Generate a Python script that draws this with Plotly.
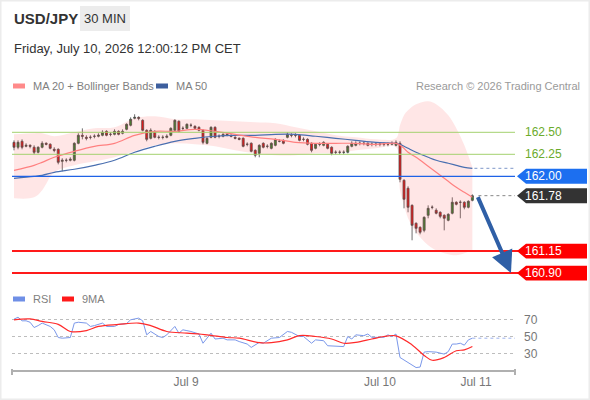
import plotly.graph_objects as go

# candle data, 30 min bars (index = bar number)
opens = [162.386, 162.330, 162.398, 162.341, 162.352, 162.330, 162.273, 162.330, 162.375, 162.364,
         162.307, 162.307, 162.170, 162.182, 162.182, 162.182, 162.375, 162.466, 162.443, 162.443,
         162.455, 162.455, 162.466, 162.511, 162.477, 162.477, 162.511, 162.489, 162.534, 162.580,
         162.659, 162.670, 162.636, 162.523, 162.432, 162.511, 162.443, 162.443, 162.443, 162.466,
         162.523, 162.625, 162.545, 162.545, 162.580, 162.568, 162.557, 162.523, 162.375, 162.443,
         162.557, 162.455, 162.455, 162.466, 162.466, 162.443, 162.432, 162.432, 162.364, 162.375,
         162.295, 162.261, 162.375, 162.341, 162.318, 162.352, 162.398, 162.409, 162.443, 162.466,
         162.466, 162.466, 162.420, 162.420, 162.375, 162.318, 162.364, 162.352, 162.364, 162.330,
         162.273, 162.273, 162.273, 162.273, 162.341, 162.352, 162.375, 162.375, 162.375, 162.364,
         162.364, 162.364, 162.364, 162.364, 162.364, 162.352, 162.375, 161.955, 161.864, 161.670,
         161.466, 161.420, 161.386, 161.557, 161.648, 161.614, 161.591, 161.557, 161.500, 161.580,
         161.705, 161.705, 161.705, 161.648, 161.727]
highs = [162.409, 162.409, 162.420, 162.375, 162.364, 162.352, 162.341, 162.398, 162.386, 162.375,
         162.330, 162.318, 162.205, 162.205, 162.216, 162.386, 162.489, 162.545, 162.466, 162.466,
         162.477, 162.489, 162.523, 162.523, 162.500, 162.534, 162.523, 162.534, 162.602, 162.670,
         162.705, 162.682, 162.648, 162.534, 162.545, 162.523, 162.466, 162.466, 162.477, 162.557,
         162.648, 162.636, 162.568, 162.602, 162.602, 162.580, 162.568, 162.534, 162.443, 162.568,
         162.568, 162.477, 162.489, 162.489, 162.477, 162.455, 162.443, 162.443, 162.386, 162.386,
         162.307, 162.364, 162.386, 162.364, 162.386, 162.432, 162.420, 162.420, 162.500, 162.489,
         162.489, 162.477, 162.443, 162.432, 162.386, 162.375, 162.386, 162.398, 162.375, 162.341,
         162.295, 162.295, 162.295, 162.352, 162.398, 162.398, 162.398, 162.398, 162.386, 162.386,
         162.386, 162.386, 162.386, 162.386, 162.398, 162.409, 162.398, 161.966, 161.886, 161.682,
         161.477, 161.432, 161.545, 161.670, 161.670, 161.636, 161.602, 161.568, 161.580, 161.761,
         161.716, 161.727, 161.716, 161.727, 161.795]
lows = [162.295, 162.307, 162.307, 162.330, 162.318, 162.250, 162.261, 162.318, 162.352, 162.307,
        162.273, 162.136, 162.057, 162.159, 162.170, 162.170, 162.364, 162.420, 162.409, 162.420,
        162.432, 162.443, 162.455, 162.455, 162.455, 162.466, 162.466, 162.477, 162.523, 162.568,
        162.648, 162.636, 162.511, 162.398, 162.420, 162.432, 162.420, 162.420, 162.432, 162.455,
        162.511, 162.500, 162.523, 162.534, 162.557, 162.534, 162.511, 162.364, 162.364, 162.432,
        162.432, 162.432, 162.443, 162.455, 162.443, 162.420, 162.409, 162.330, 162.341, 162.273,
        162.216, 162.216, 162.318, 162.318, 162.307, 162.341, 162.386, 162.364, 162.432, 162.443,
        162.443, 162.398, 162.398, 162.352, 162.273, 162.307, 162.341, 162.341, 162.307, 162.239,
        162.250, 162.250, 162.250, 162.261, 162.330, 162.341, 162.352, 162.352, 162.341, 162.341,
        162.341, 162.341, 162.341, 162.341, 162.352, 162.341, 161.932, 161.636, 161.591, 161.273,
        161.352, 161.341, 161.364, 161.523, 161.625, 161.568, 161.523, 161.386, 161.489, 161.568,
        161.670, 161.523, 161.625, 161.636, 161.716]
closes = [162.330, 162.386, 162.330, 162.352, 162.341, 162.273, 162.330, 162.375, 162.364, 162.318,
          162.295, 162.159, 162.182, 162.182, 162.193, 162.375, 162.466, 162.455, 162.432, 162.443,
          162.455, 162.466, 162.500, 162.466, 162.477, 162.511, 162.477, 162.511, 162.591, 162.648,
          162.670, 162.659, 162.523, 162.420, 162.523, 162.443, 162.443, 162.443, 162.455, 162.545,
          162.636, 162.511, 162.545, 162.591, 162.580, 162.545, 162.523, 162.386, 162.432, 162.557,
          162.443, 162.455, 162.477, 162.477, 162.455, 162.432, 162.420, 162.341, 162.364, 162.284,
          162.239, 162.352, 162.330, 162.341, 162.375, 162.420, 162.398, 162.375, 162.477, 162.466,
          162.466, 162.409, 162.420, 162.364, 162.295, 162.364, 162.364, 162.386, 162.318, 162.261,
          162.273, 162.273, 162.273, 162.341, 162.375, 162.375, 162.375, 162.375, 162.352, 162.364,
          162.364, 162.364, 162.364, 162.364, 162.375, 162.386, 161.966, 161.739, 161.648, 161.443,
          161.409, 161.364, 161.534, 161.636, 161.648, 161.580, 161.545, 161.523, 161.568, 161.705,
          161.682, 161.705, 161.648, 161.716, 161.780]
bars = list(range(len(closes)))

# moving averages / bands at these bars
ma_bars = [0, 5, 7, 10, 15, 20, 25, 30, 35, 40, 45, 50, 55, 60, 65, 70, 75, 80, 85, 90,
           95, 96, 97, 98, 100, 103, 105, 108, 110, 112, 114]
ma20 = [162.068, 162.125, 162.159, 162.216, 162.284, 162.341, 162.375, 162.466, 162.511, 162.511,
        162.534, 162.511, 162.477, 162.443, 162.420, 162.386, 162.375, 162.375, 162.375, 162.364,
        162.375, 162.352, 162.318, 162.273, 162.216, 162.114, 162.045, 161.943, 161.875, 161.818, 161.761]
ma50 = [161.977, 162.000, 162.011, 162.045, 162.080, 162.125, 162.182, 162.273, 162.341, 162.398,
        162.432, 162.455, 162.466, 162.466, 162.477, 162.477, 162.455, 162.432, 162.409, 162.386,
        162.375, 162.364, 162.341, 162.318, 162.273, 162.216, 162.182, 162.148, 162.125, 162.102, 162.091]
bb_upper = [162.477, 162.489, 162.489, 162.455, 162.500, 162.545, 162.557, 162.659, 162.682, 162.648,
            162.648, 162.636, 162.625, 162.614, 162.602, 162.557, 162.511, 162.466, 162.443, 162.420,
            162.432, 162.580, 162.693, 162.750, 162.818, 162.852, 162.818, 162.693, 162.545, 162.352, 162.102]
bb_lower = [161.750, 161.761, 161.841, 162.045, 162.125, 162.170, 162.216, 162.284, 162.352, 162.375,
            162.364, 162.341, 162.295, 162.261, 162.239, 162.239, 162.261, 162.261, 162.295, 162.318,
            162.330, 161.841, 161.670, 161.523, 161.364, 161.216, 161.159, 161.114, 161.102, 161.125, 161.159]

# RSI panel
rsi_bars = [0, 1, 2, 3, 4, 5, 6, 7, 9, 10, 11, 12, 14, 15, 16, 18, 19, 20, 22, 23, 25, 26, 28, 29,
            31, 32, 33, 34, 36, 37, 38, 40, 41, 42, 43, 44, 46, 47, 49, 50, 52, 53, 55, 56, 58, 59,
            61, 62, 64, 66, 68, 69, 71, 72, 74, 75, 77, 78, 82, 83, 84, 85, 87, 88, 89, 92, 93, 94,
            95, 96, 97, 99, 100, 101, 102, 103, 105, 107, 108, 109, 110, 111, 112, 113, 114]
rsi = [70.7, 73, 68.7, 68.7, 67, 60.7, 63, 66, 62, 58, 48.8, 48, 48.8, 66, 67, 66, 62, 63, 66, 62,
       62, 64.4, 65.4, 69.9, 71.9, 68.7, 52, 56, 50, 48.8, 52, 62, 54, 58, 57, 56, 53, 42, 54, 47,
       48, 46, 46, 44, 41, 37, 43, 42, 48, 48.8, 56, 55, 50, 50, 42, 46, 45, 39, 38, 50, 47, 52,
       51, 53, 49, 49, 52, 50, 53, 25, 22, 15.5, 13, 13.6, 31.4, 32, 31.4, 29, 32, 41, 41, 42, 39.7, 46, 48]
ma9_bars = [0, 4, 7, 11, 14, 18, 21, 26, 31, 34, 38, 43, 48, 53, 56, 61, 64, 68, 71, 75, 79, 82,
            85, 89, 92, 95, 99, 102, 104, 107, 110, 112, 114]
rsi_ma9 = [69.9, 71, 68, 64.4, 56, 57, 62, 64.4, 66, 63, 56, 54, 52, 48.8, 48, 42.6, 42.6, 46, 51,
           50, 47, 42, 43, 47, 50, 50.8, 40, 27.5, 21.7, 25, 33, 34, 38]

# levels shown on the right
levels_green = [162.50, 162.25]
level_blue = 162.00
levels_red = [161.15, 160.90]
last_price = closes[-1]
target_price = 160.90
target_bar = 123.6

x_tick_pos = [42.8, 91, 114.9]
x_tick_text = ["Jul 9", "Jul 10", "Jul 11"]

FONT = "Liberation Sans, Arial, sans-serif"
XR = [-0.5, 124.6]
PX_W = 503.0


def px(x):
    # figure pixel -> paper x
    return (x - 12) / PX_W


def py(y):
    return (400 - y) / 400.0


fig = go.Figure()

fig.add_trace(go.Scatter(x=ma_bars, y=bb_upper, mode="lines", line=dict(width=0, shape="spline"),
                         hoverinfo="skip", xaxis="x", yaxis="y"))
fig.add_trace(go.Scatter(x=ma_bars, y=bb_lower, mode="lines", line=dict(width=0, shape="spline"),
                         fill="tonexty", fillcolor="rgba(255,60,60,0.13)", hoverinfo="skip",
                         xaxis="x", yaxis="y"))
fig.add_trace(go.Scatter(x=ma_bars, y=ma50, mode="lines",
                         line=dict(color="#4a6fb0", width=1.2, shape="spline"), xaxis="x", yaxis="y"))
fig.add_trace(go.Scatter(x=ma_bars, y=ma20, mode="lines",
                         line=dict(color="#ff8080", width=1.2, shape="spline"), xaxis="x", yaxis="y"))

fig.add_trace(go.Candlestick(
    x=bars, open=opens, high=highs, low=lows, close=closes,
    increasing=dict(fillcolor="#2e8b2e", line=dict(color="#4a4a4a", width=0.8)),
    decreasing=dict(fillcolor="#e81010", line=dict(color="#4a4a4a", width=0.8)),
    whiskerwidth=0, xaxis="x", yaxis="y"))

fig.add_trace(go.Scatter(x=rsi_bars, y=rsi, mode="lines", line=dict(color="#7b98ea", width=1),
                         xaxis="x2", yaxis="y2"))
fig.add_trace(go.Scatter(x=ma9_bars, y=rsi_ma9, mode="lines",
                         line=dict(color="#ff2a2a", width=1.2, shape="spline"), xaxis="x2", yaxis="y2"))

shapes = []
for lv in levels_green:
    shapes.append(dict(type="line", xref="paper", yref="y", x0=0, x1=1, y0=lv, y1=lv,
                       line=dict(color="#a3d16e", width=1)))
shapes.append(dict(type="line", xref="paper", yref="y", x0=0, x1=1, y0=level_blue, y1=level_blue,
                   line=dict(color="#1f62e6", width=1.3)))
for lv in levels_red:
    shapes.append(dict(type="line", xref="paper", yref="y", x0=0, x1=1.01, y0=lv, y1=lv,
                       line=dict(color="#ff1a1a", width=2)))
# dotted projections to the right edge
shapes.append(dict(type="line", xref="x", yref="y", x0=bars[-1] + 1.5, x1=XR[1], y0=last_price, y1=last_price,
                   line=dict(color="#888", width=1, dash="dot")))
shapes.append(dict(type="line", xref="x", yref="y", x0=bars[-1] + 0.5, x1=XR[1], y0=ma50[-1], y1=ma50[-1],
                   line=dict(color="#7d96c8", width=1, dash="dot")))
shapes.append(dict(type="line", xref="x2", yref="y2", x0=rsi_bars[-1], x1=XR[1], y0=rsi[-1], y1=rsi[-1],
                   line=dict(color="#9db2ee", width=1, dash="dot")))


def tag(price, color):
    h = 0.085
    a, b, c = px(517), px(526), px(587)
    path = f"M {a},{price} L {b},{price + h} L {c},{price + h} L {c},{price - h} L {b},{price - h} Z"
    return dict(type="path", xref="paper", yref="y", path=path, fillcolor=color, line=dict(width=0))


shapes.append(tag(level_blue, "#1c6ff0"))
shapes.append(tag(last_price, "#333333"))
for lv in levels_red:
    shapes.append(tag(lv, "#ff0000"))

# legend swatches
shapes.append(dict(type="rect", xref="paper", yref="paper", x0=px(13), x1=px(25), y0=py(88.5), y1=py(83.5),
                   fillcolor="#ff8a8a", line=dict(width=0)))
shapes.append(dict(type="rect", xref="paper", yref="paper", x0=px(156), x1=px(168), y0=py(88.5), y1=py(83.5),
                   fillcolor="#3d5f9e", line=dict(width=0)))
shapes.append(dict(type="rect", xref="paper", yref="paper", x0=px(13), x1=px(25), y0=py(301.5), y1=py(296.5),
                   fillcolor="#6f8fe6", line=dict(width=0)))
shapes.append(dict(type="rect", xref="paper", yref="paper", x0=px(62), x1=px(74), y0=py(301.5), y1=py(296.5),
                   fillcolor="#ff1a1a", line=dict(width=0)))
# header box and axis end marks
shapes.append(dict(type="rect", xref="paper", yref="paper", x0=px(80), x1=px(130), y0=py(31), y1=py(6),
                   fillcolor="#ececec", line=dict(width=0), layer="below"))
for xe in [0, 1]:
    shapes.append(dict(type="line", xref="paper", yref="paper", x0=xe, x1=xe, y0=py(369), y1=py(375),
                       line=dict(color="#b0b0b0", width=2)))
shapes.append(dict(type="rect", xref="paper", yref="paper", x0=px(0.5), x1=px(589.5), y0=py(399.5), y1=py(0.5),
                   line=dict(color="#ececec", width=2)))

annotations = [
    dict(text="<b>USD/JPY</b>", x=px(12), y=py(19), xanchor="left", yanchor="middle",
         font=dict(size=15, color="#333")),
    dict(text="30 MIN", x=px(105), y=py(19), xanchor="center", yanchor="middle",
         font=dict(size=13, color="#333")),
    dict(text="Friday, July 10, 2026 12:00:12 PM CET", x=px(12), y=py(48), xanchor="left", yanchor="middle",
         font=dict(size=13, color="#333")),
    dict(text="MA 20 + Bollinger Bands", x=px(31), y=py(86), xanchor="left", yanchor="middle",
         font=dict(size=11, color="#808080")),
    dict(text="MA 50", x=px(174), y=py(86), xanchor="left", yanchor="middle",
         font=dict(size=11, color="#808080")),
    dict(text="Research © 2026 Trading Central", x=px(582), y=py(86), xanchor="right", yanchor="middle",
         font=dict(size=11, color="#9a9a9a")),
    dict(text="RSI", x=px(31), y=py(299), xanchor="left", yanchor="middle",
         font=dict(size=11, color="#808080")),
    dict(text="9MA", x=px(80), y=py(299), xanchor="left", yanchor="middle",
         font=dict(size=11, color="#808080")),
]
for lv in levels_green:
    annotations.append(dict(text=f"{lv:.2f}", x=px(523), y=lv, xref="paper", yref="y", xanchor="left",
                            yanchor="middle", font=dict(size=12, color="#6bab2c")))
for lv in [level_blue, last_price] + levels_red:
    annotations.append(dict(text=f"{lv:.2f}", x=px(523), y=lv, xref="paper", yref="y", xanchor="left",
                            yanchor="middle", font=dict(size=12, color="white")))
for a in annotations:
    a.setdefault("xref", "paper")
    a.setdefault("yref", "paper")
    a["showarrow"] = False
    a["font"]["family"] = FONT

annotations.append(dict(x=target_bar, y=target_price, ax=bars[-1] + 1.2, ay=last_price,
                        xref="x", yref="y", axref="x", ayref="y", text="", showarrow=True,
                        arrowhead=2, arrowsize=1.1, arrowwidth=4, arrowcolor="#2f5fa6", standoff=0))

fig.update_layout(
    width=590, height=400,
    margin=dict(l=12, r=75, t=0, b=0),
    paper_bgcolor="white", plot_bgcolor="white",
    showlegend=False,
    font=dict(family=FONT),
    xaxis=dict(domain=[0, 1], range=XR, visible=False, rangeslider=dict(visible=False), anchor="y"),
    yaxis=dict(domain=[py(282), py(95)], range=[160.799, 162.924], visible=False, anchor="x"),
    xaxis2=dict(domain=[0, 1], range=XR, anchor="y2", showline=True, linecolor="#b0b0b0", linewidth=2,
                tickvals=x_tick_pos, ticktext=x_tick_text, ticks="", showgrid=False, zeroline=False,
                tickfont=dict(size=12, color="#777")),
    yaxis2=dict(domain=[py(370), py(300)], range=[10.1, 93.5], anchor="x2", side="right",
                tickvals=[30, 50, 70], showgrid=True, gridcolor="#bdbdbd", griddash="dot", gridwidth=1,
                zeroline=False, showline=False, ticks="", ticklabelstandoff=8,
                tickfont=dict(size=12, color="#777")),
    shapes=shapes,
    annotations=annotations,
)

# the page has a default body margin; drop it so the figure sits at the window corner
fig.write_html("out.html", config={"displayModeBar": False},
               post_script="document.body.style.margin='0px';")
